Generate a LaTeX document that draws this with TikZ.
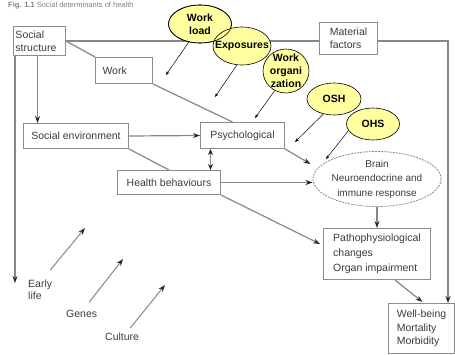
\documentclass[tikz,border=0pt]{standalone}
\usepackage{fontspec}
\setmainfont{Liberation Sans}
\usetikzlibrary{arrows.meta,shapes.geometric,backgrounds}
\definecolor{ln}{RGB}{135,135,135}
\definecolor{bx}{RGB}{140,140,140}
\definecolor{tx}{RGB}{60,60,60}
\definecolor{yel}{RGB}{255,255,160}
\definecolor{tip}{RGB}{40,40,40}
\begin{document}
\begin{tikzpicture}[x=1pt,y=-1pt,
 box/.style={draw=bx, line width=1pt, fill=white, text=tx, anchor=north west, align=left, inner ysep=0pt, font=\fontsize{10.5}{13}\selectfont},
 ell/.style={ellipse, draw=black, line width=0.6pt, fill=yel, inner sep=0pt},
 etext/.style={align=center, inner sep=0pt, font=\fontsize{10.5}{13}\selectfont\bfseries},
 con/.style={draw=ln, line width=1.2pt},
 arr/.style={con, -{Stealth[length=7pt,width=5pt,color=tip]}},
 darr/.style={con, {Stealth[length=6pt,width=5pt,color=tip]}-{Stealth[length=6pt,width=5pt,color=tip]}},
 pin/.style={draw=black, line width=0.5pt, -{Stealth[length=4pt,width=3pt]}},
 lbl/.style={text=tx, align=left, inner sep=0pt, font=\fontsize{10.5}{12}\selectfont}]
\useasboundingbox (0,0) rectangle (455,354);

\node[anchor=base west, inner sep=0pt, font=\fontsize{7.5}{9}\selectfont, text=gray] (title) at (8,7) {\textbf{Fig. 1.1} Social determinants of health};

% boxes
\node[box, minimum width=52, minimum height=29, text width=48, inner xsep=2] (ss) at (13,26) {Social\\structure};
\node[box, minimum width=57, minimum height=26, text width=43, inner xsep=7] (work) at (95,57) {Work};
\node[box, minimum width=58, minimum height=32] (mat) at (319,22) {Material\\factors};
\node[box, minimum width=105, minimum height=25] (senv) at (23,123) {Social environment};
\node[box, minimum width=84, minimum height=26] (psy) at (200,122) {Psychological};
\node[box, minimum width=103, minimum height=24] (hb) at (117,170) {Health behaviours};
\node[box, minimum width=107, minimum height=51, font=\fontsize{10.5}{15}\selectfont] (patho) at (323,228) {Pathophysiological\\changes\\Organ impairment};
\node[box, minimum width=66, minimum height=50, font=\fontsize{10.5}{13.5}\selectfont] (well) at (388,303) {Well-being\\Mortality\\Morbidity};
\node[ellipse, draw=bx, line width=0.8pt, dash pattern=on 2pt off 1pt, fill=white, text=tx, minimum width=110, minimum height=55, inner sep=0pt, align=center, font=\fontsize{10}{14.5}\selectfont] (brain) at (377,179) {Brain\\Neuroendocrine and\\immune response};

% labels
\node[lbl, anchor=north west] (early) at (28,280) {Early\\life};
\node[lbl, anchor=north west] (genes) at (66,310) {Genes};
\node[lbl, anchor=north west] (cult) at (105,333) {Culture};

% connectors
\begin{pgfonlayer}{background}
\coordinate (corner) at (448,42);
\draw[arr] (ss.east) -- (ss.east -| corner) -- (corner |- well.north);
\draw[con] (ss.east) -- (work.north west);
\draw[con] (work.south east) -- ([shift={(-10,0)}]psy.north);
\draw[arr] ([shift={(-2,0)}]ss.south) -- ([shift={(-2,0)}]ss.south |- senv.north);
\coordinate (el) at (15,283);
\draw[arr] (ss.south west -| el) -- (el);
\draw[arr] (senv.east) -- (psy.west);
\draw[con] (senv.south east) -- (hb.north);
\draw[darr] ([shift={(-32,0)}]psy.south) -- ([shift={(-32,0)}]psy.south |- hb.north);
\draw[arr] (psy.south east) -- ([shift={(-2,-15)}]brain.west);
\draw[arr] (hb.east) -- (hb.east -| brain.west);
\draw[arr] (hb.south east) -- ([shift={(-3,16)}]patho.north west);
\draw[arr] (brain.south) -- (patho.north);
\draw[arr] ([shift={(18,0)}]patho.south) -- ([shift={(1,-1)}]well.north);
\end{pgfonlayer}

\coordinate (ea) at (85,228);
\draw[arr, line width=1pt] ([shift={(-2,-10)}]early.north east) -- (ea);
\coordinate (ga) at (123,259);
\draw[arr, line width=1pt] ([shift={(-8,-8)}]genes.north east) -- (ga);
\coordinate (ca) at (165,285);
\draw[arr, line width=1pt] ([shift={(-9,-5)}]cult.north east) -- (ca);

% yellow ellipses
\node[ell, minimum width=63, minimum height=38] (wl) at (200,24) {};
\node[ell, minimum width=58, minimum height=38] (ex) at (242,46) {};
\draw[line width=0.6pt] (wl.center) ellipse [x radius=31.5, y radius=19];
\node[ell, minimum width=46, minimum height=44] (wo) at (286,71) {};
\node[ell, minimum width=54, minimum height=32] (osh) at (334,99) {};
\node[ell, minimum width=53, minimum height=32] (ohs) at (373,124) {};
\node[etext] at (wl) {Work\\load};
\node[etext] at (ex) {Exposures};
\node[etext] at (wo) {Work\\organi\\zation};
\node[etext] at (osh) {OSH};
\node[etext] at (ohs) {OHS};

% pins
\coordinate (p1) at (166,75); \draw[pin] (wl.238) -- (p1);
\coordinate (p2) at (215,97); \draw[pin] (ex.255) -- (p2);
\coordinate (p3) at (255,118); \draw[pin] (wo.240) -- (p3);
\coordinate (p4) at (295,142); \draw[pin] (osh.235) -- (p4);
\coordinate (p5) at (326,159); \draw[pin] (ohs.195) -- (p5);
\end{tikzpicture}
\end{document}
